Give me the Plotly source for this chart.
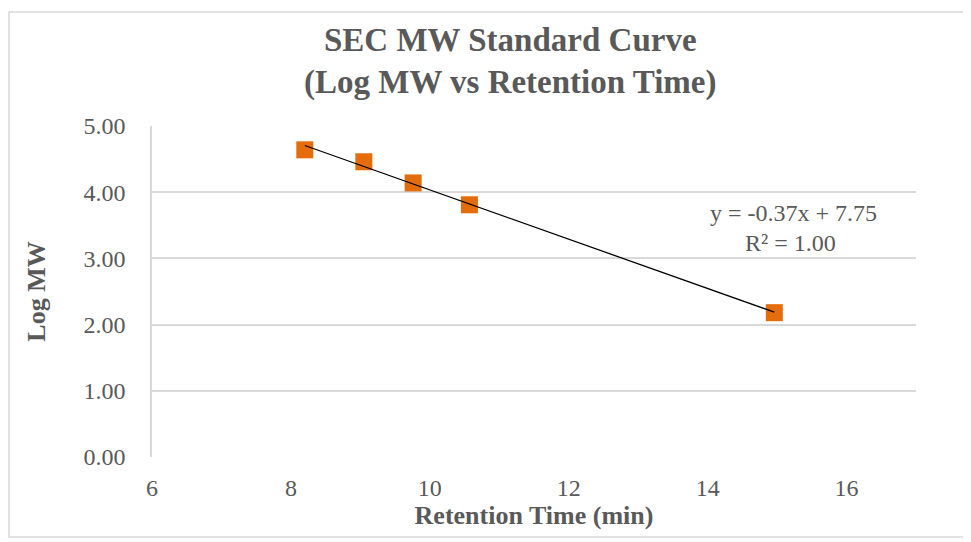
import numpy as np
import plotly.graph_objects as go

# Data
retention_time = [8.20, 9.05, 9.76, 10.57, 14.96]
log_mw = [4.64, 4.46, 4.14, 3.81, 2.18]
x_ticks = [6, 8, 10, 12, 14, 16]
y_ticks = [0, 1, 2, 3, 4, 5]
equation_text = "y = -0.37x + 7.75"
r2_text = "R² = 1.00"

FONT = "Liberation Serif, serif"
GREY = "#595959"

# Linear trendline from the data
slope, intercept = np.polyfit(retention_time, log_mw, 1)
tx = np.array([min(retention_time), max(retention_time)])
ty = slope * tx + intercept

OFF = 8  # page body offset
W, H = 971 - OFF, 542 - OFF
L, T = 152 - OFF, 126 - OFF
R, B = 971 - 916, 542 - 457
pw, ph = W - L - R, H - T - B

def px(xscreen):
    return (xscreen - OFF - L) / pw

def py(yscreen):
    return (H - B - (yscreen - OFF)) / ph

fig = go.Figure()
fig.add_trace(go.Scatter(
    x=retention_time, y=log_mw, mode="markers",
    marker=dict(symbol="square", size=17, color="#E46C0A",
                line=dict(width=0)),
    showlegend=False, hoverinfo="x+y"))
fig.add_trace(go.Scatter(
    x=tx, y=ty, mode="lines",
    line=dict(color="#000000", width=1.3),
    showlegend=False, hoverinfo="skip"))

fig.update_layout(
    width=W, height=H,
    margin=dict(l=L, r=R, t=T, b=B),
    paper_bgcolor="white", plot_bgcolor="white",
    font=dict(family=FONT, color=GREY),
    xaxis=dict(range=[6, 17], tickvals=x_ticks, ticktext=[str(v) for v in x_ticks],
               showgrid=False, zeroline=False, showline=False,
               tickfont=dict(size=24, color=GREY), ticklabelstandoff=14,
               title=dict(text="<b>Retention Time (min)</b>", font=dict(size=26, color=GREY),
                          standoff=0)),
    yaxis=dict(range=[0, 5], tickvals=y_ticks, ticktext=[f"{v:.2f}" for v in y_ticks],
               showgrid=True, gridcolor="#D9D9D9", gridwidth=1.5,
               zeroline=False, showline=True, linecolor="#D9D9D9", linewidth=1.5,
               tickfont=dict(size=24, color=GREY), ticklabelstandoff=20,
               title=dict(text="<b>Log MW</b>", font=dict(size=26, color=GREY),
                          standoff=30)),
    annotations=[
        dict(text="<b>SEC MW Standard Curve</b>", xref="paper", yref="paper",
             x=px(510), y=py(40), showarrow=False, xanchor="center", yanchor="middle",
             font=dict(size=33, color=GREY, family=FONT)),
        dict(text="<b>(Log MW vs Retention Time)</b>", xref="paper", yref="paper",
             x=px(510), y=py(82), showarrow=False, xanchor="center", yanchor="middle",
             font=dict(size=33, color=GREY, family=FONT)),
        dict(text=equation_text, xref="paper", yref="paper",
             x=px(793), y=py(213), showarrow=False, xanchor="center", yanchor="middle",
             font=dict(size=24, color=GREY, family=FONT)),
        dict(text=r2_text, xref="paper", yref="paper",
             x=px(790), y=py(243), showarrow=False, xanchor="center", yanchor="middle",
             font=dict(size=24, color=GREY, family=FONT)),
    ],
    shapes=[dict(type="rect", xref="paper", yref="paper",
                 x0=px(9), x1=px(965), y0=py(537), y1=py(12),
                 line=dict(color="#D9D9D9", width=1.5), layer="below")],
)

fig.write_html("out.html")
